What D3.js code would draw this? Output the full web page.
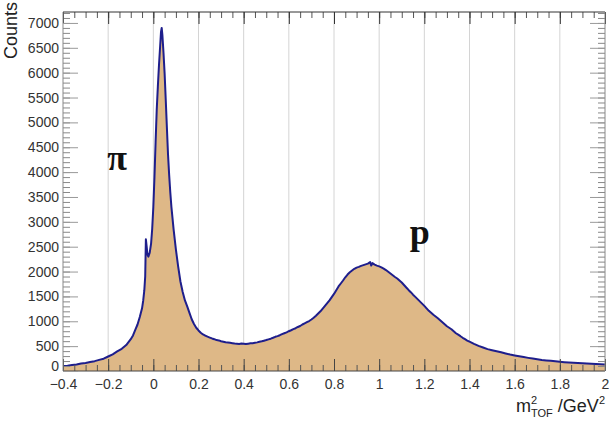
<!DOCTYPE html>
<html><head><meta charset="utf-8">
<script src="https://cdn.jsdelivr.net/npm/d3@7"></script>
<style>body{margin:0;background:#fff}svg{display:block}</style>
</head><body><svg id="c" width="610" height="422"></svg>
<script>
const mass2 = [-0.40,-0.38,-0.36,-0.34,-0.32,-0.30,-0.28,-0.26,-0.24,-0.22,-0.20,-0.18,-0.16,-0.14,-0.12,-0.10,-0.09,-0.08,-0.07,-0.06,-0.05,-0.045,-0.04,-0.036,-0.033,-0.030,-0.026,-0.022,-0.016,-0.010,-0.005,
0.000,0.005,0.010,0.015,0.020,0.025,0.030,0.034,0.037,0.040,0.045,0.050,0.055,0.060,0.065,0.070,0.075,0.080,0.090,0.100,0.110,0.120,0.130,0.140,0.150,0.160,0.170,0.180,0.190,0.200,
0.21,0.22,0.23,0.24,0.25,0.26,0.27,0.28,0.29,0.30,0.31,0.32,0.33,0.34,0.35,0.36,0.37,0.38,0.39,0.40,0.41,0.42,0.43,0.44,0.45,0.46,0.47,0.48,0.49,0.50,
0.51,0.52,0.53,0.54,0.55,0.56,0.57,0.58,0.59,0.60,0.61,0.62,0.63,0.64,0.65,0.66,0.67,0.68,0.69,0.70,0.71,0.72,0.73,0.74,0.75,0.76,0.77,0.78,0.79,0.80,
0.81,0.82,0.83,0.84,0.85,0.86,0.87,0.88,0.89,0.90,0.91,0.92,0.93,0.94,0.95,0.96,0.965,0.97,0.98,0.99,1.00,1.01,1.02,1.03,1.04,1.05,1.06,1.07,1.08,1.09,1.10,
1.11,1.12,1.13,1.14,1.15,1.16,1.17,1.18,1.19,1.20,1.21,1.22,1.23,1.24,1.25,1.26,1.27,1.28,1.29,1.30,1.31,1.32,1.33,1.34,1.35,1.36,1.37,1.38,1.39,1.40,
1.42,1.44,1.46,1.48,1.50,1.52,1.54,1.56,1.58,1.60,1.62,1.64,1.66,1.68,1.70,1.72,1.74,1.76,1.78,1.80,1.82,1.84,1.86,1.88,1.90,1.92,1.94,1.96,1.98,2.00];
const counts = [100,108,122,131,150,162,181,198,224,248,292,336,395,446,522,640,716,828,935,1085,1260,1410,1620,1900,2650,2520,2340,2300,2380,2560,2860,
3300,3900,4600,5250,5720,6150,6520,6820,6900,6760,6400,5980,5450,4900,4360,3950,3600,3300,2840,2440,2100,1800,1590,1420,1300,1170,1040,945,870,815,
770,735,712,690,672,655,640,622,615,598,590,578,572,566,560,552,548,545,552,548,542,550,556,560,568,576,588,598,610,622,
636,650,668,688,702,720,742,760,778,800,820,842,860,885,905,935,958,982,1005,1035,1070,1110,1155,1200,1255,1310,1365,1420,1485,1550,
1625,1700,1760,1820,1885,1940,1985,2020,2055,2080,2095,2115,2130,2145,2160,2190,2120,2170,2140,2120,2105,2085,2060,2030,1995,1960,1925,1890,1860,1820,1780,
1730,1680,1630,1585,1535,1490,1445,1400,1355,1310,1260,1210,1170,1130,1095,1060,1020,980,940,900,870,840,800,760,730,700,668,640,612,590,
545,505,472,440,418,398,376,352,330,312,295,280,264,250,236,222,212,204,194,186,178,172,166,160,155,150,146,141,136,132];
const xTicks = [-0.4,-0.2,0,0.2,0.4,0.6,0.8,1,1.2,1.4,1.6,1.8,2];
const xTickLabels = ["\u22120.4","\u22120.2","0","0.2","0.4","0.6","0.8","1","1.2","1.4","1.6","1.8","2"];
const yTicks = [0,500,1000,1500,2000,2500,3000,3500,4000,4500,5000,5500,6000,6500,7000];
const peakLabels = [{t:"\u03c0", m:-0.16, c:4050}, {t:"p", m:1.18, c:2550}];

const L=63, R=605, T=12, B=371;
const SANS = "'Liberation Sans', Arial, sans-serif";
const SERIF = "'Liberation Serif', 'Times New Roman', serif";
const svg = d3.select("#c");
const x = d3.scaleLinear().domain([-0.4,2.0]).range([L,R]);
const y = d3.scaleLinear().domain([0,7220]).range([B,T]);
const data = mass2.map((m,i)=>({m, c:counts[i]}));

// grid
svg.append("g").selectAll("line").data(xTicks.slice(1,-1)).join("line")
  .attr("x1",d=>x(d)).attr("x2",d=>x(d)).attr("y1",T).attr("y2",B)
  .attr("stroke","#d4d4d4").attr("stroke-width",1);

// histogram fill + outline
svg.append("path").datum(data)
  .attr("d", d3.area().x(d=>x(d.m)).y0(y(0)).y1(d=>y(d.c)))
  .attr("fill","#deb887");
svg.append("path").datum(data)
  .attr("d", d3.line().x(d=>x(d.m)).y(d=>y(d.c)))
  .attr("fill","none").attr("stroke","#1e1e8c").attr("stroke-width",2).attr("stroke-linejoin","round");

// minor ticks
const xMinor = d3.range(-0.4,2.0001,0.05).map(v=>+v.toFixed(3));
const yMinor = d3.range(0,7201,100);
function styleAxis(g,col){g.selectAll("line").attr("stroke",col);g.select(".domain").attr("stroke",col);}

const gxm = svg.append("g").attr("transform",`translate(0,${B})`).call(d3.axisBottom(x).tickValues(xMinor).tickSize(-6).tickFormat(""));
gxm.select(".domain").remove(); styleAxis(gxm,"#555");
const gxt = svg.append("g").attr("transform",`translate(0,${T})`).call(d3.axisTop(x).tickValues(xMinor).tickSize(-6).tickFormat(""));
gxt.select(".domain").remove(); styleAxis(gxt,"#555");
const gym = svg.append("g").attr("transform",`translate(${L},0)`).call(d3.axisLeft(y).tickValues(yMinor).tickSize(-7).tickFormat(""));
gym.select(".domain").remove(); styleAxis(gym,"#888");
const gyr = svg.append("g").attr("transform",`translate(${R},0)`).call(d3.axisRight(y).tickValues(yMinor).tickSize(-7).tickFormat(""));
gyr.select(".domain").remove(); styleAxis(gyr,"#888");

// major axes
const gx = svg.append("g").attr("transform",`translate(0,${B})`)
  .call(d3.axisBottom(x).tickValues(xTicks).tickSize(-12).tickPadding(8).tickFormat((d,i)=>xTickLabels[i]));
styleAxis(gx,"#444");
gx.select(".domain").attr("d",`M${L},0H${R}`);
gx.selectAll("text").attr("font-size",14).attr("fill","#333").style("font-family",SANS);
const gxT = svg.append("g").attr("transform",`translate(0,${T})`)
  .call(d3.axisTop(x).tickValues(xTicks).tickSize(-12).tickFormat(""));
styleAxis(gxT,"#333"); gxT.select(".domain").attr("d",`M${L},0H${R}`);

const gy = svg.append("g").attr("transform",`translate(${L},0)`)
  .call(d3.axisLeft(y).tickValues(yTicks).tickSize(-15).tickPadding(4).tickFormat(d3.format("d")));
styleAxis(gy,"#999");
gy.select(".domain").attr("d",`M0,${T}V${B}`).attr("stroke","#888");
gy.selectAll("text").attr("font-size",14).attr("fill","#333").style("font-family",SANS);
gy.selectAll(".tick").filter(d=>d===0).select("text").attr("dy","-0.05em");
const gyR = svg.append("g").attr("transform",`translate(${R},0)`)
  .call(d3.axisRight(y).tickValues(yTicks).tickSize(-15).tickFormat(""));
styleAxis(gyR,"#999"); gyR.select(".domain").attr("d",`M0,${T}V${B}`).attr("stroke","#888");

// axis titles
svg.append("text").attr("transform","translate(17,2) rotate(-90)").attr("text-anchor","end")
  .attr("font-size",18).attr("fill","#222").style("font-family",SANS).text("Counts");
const xt = svg.append("text").attr("x",605).attr("y",412).attr("text-anchor","end").attr("font-size",18).attr("fill","#222").style("font-family",SANS);
xt.append("tspan").text("m");
xt.append("tspan").attr("font-size",11).attr("dy",-8).text("2");
xt.append("tspan").attr("font-size",11).attr("dx",-6).attr("dy",13).text("TOF");
xt.append("tspan").attr("dy",-5).text(" /GeV");
xt.append("tspan").attr("font-size",11).attr("dy",-8).text("2");

// peak labels
svg.append("g").selectAll("text").data(peakLabels).join("text")
  .attr("x",d=>x(d.m)).attr("y",d=>y(d.c)).attr("text-anchor","middle")
  .style("font-family",SERIF).attr("font-weight","bold")
  .attr("font-size",36).attr("fill","#111").text(d=>d.t);
</script></body></html>
